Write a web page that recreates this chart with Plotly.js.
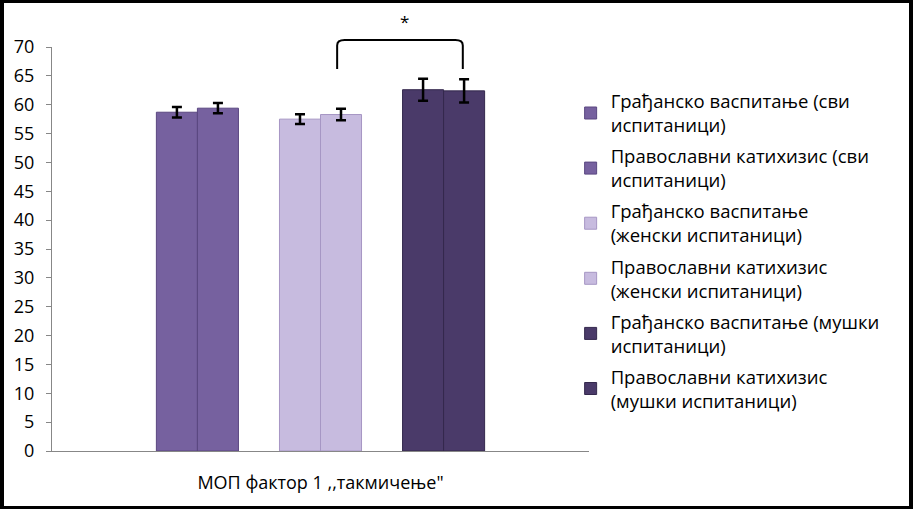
<!DOCTYPE html>
<html>
<head>
<meta charset="utf-8">
<script src="https://cdn.plot.ly/plotly-3.0.1.min.js"></script>
<style>
  html, body { margin: 0; padding: 0; background: #fff; }
  #wrap { position: relative; width: 913px; height: 509px; }
  #chart { width: 913px; height: 509px; }
  #frame {
    position: absolute; left: 0; top: 0; width: 913px; height: 509px;
    box-sizing: border-box; pointer-events: none;
    border-style: solid; border-color: #000;
    border-width: 3px 4px 3px 4px;
  }
</style>
</head>
<body>
<div id="wrap">
  <div id="chart"></div>
  <div id="frame"></div>
</div>
<script>
// one category, six series (pairs: all / female / male)
const category = ['МОП фактор 1 ,,такмичење"'];

const seriesNames = [
  "Грађанско васпитање (сви<br>испитаници)",
  "Православни катихизис (сви<br>испитаници)",
  "Грађанско васпитање<br>(женски испитаници)",
  "Православни катихизис<br>(женски испитаници)",
  "Грађанско васпитање (мушки<br>испитаници)",
  "Православни катихизис<br>(мушки испитаници)",
];

const means = [58.7, 59.4, 57.5, 58.3, 62.6, 62.4];
const errors = [0.9, 0.9, 0.85, 1.0, 1.9, 2.0];

const colors = ["#76619f", "#76619f", "#c7bbdf", "#c7bbdf", "#4a3a69", "#4a3a69"];
const edgeColors = ["#5a4780", "#5a4780", "#a696c4", "#a696c4", "#34284d", "#34284d"];

// slot positions inside the category (empty slot between each pair)
const slots = [0, 1, 3, 4, 6, 7];
const barW = 0.0764;
const start = -4 * barW;

const FONT = '"Open Sans", "Noto Sans", sans-serif';

const traces = seriesNames.map((name, i) => ({
  type: "bar",
  name,
  x: category,
  y: [means[i]],
  width: barW,
  offset: start + slots[i] * barW,
  legendgroup: "g" + i,
  marker: { color: colors[i], line: { color: edgeColors[i], width: 1 } },
  error_y: {
    type: "data",
    array: [errors[i]],
    visible: true,
    color: "#000",
    thickness: 2.5,
    width: 5,
  },
  hovertemplate: "%{y}<extra></extra>",
}));

const layout = {
  width: 913,
  height: 509,
  margin: { l: 52, r: 324, t: 47, b: 58, autoexpand: false },
  paper_bgcolor: "#fff",
  plot_bgcolor: "#fff",
  barmode: "overlay",
  font: { family: FONT, color: "#000" },
  showlegend: true,
  legend: {
    xref: "container",
    yref: "container",
    x: 0.625,
    y: 0.838,
    xanchor: "left",
    yanchor: "top",
    maxheight: 440,
    font: { size: 18.5, family: FONT, color: "#000" },
    traceorder: "grouped",
    tracegroupgap: 4,
    itemwidth: 30,
    bgcolor: "rgba(0,0,0,0)",
  },
  xaxis: {
    type: "category",
    showline: true,
    linecolor: "#878787",
    linewidth: 1,
    ticks: "",
    showgrid: false,
    zeroline: false,
    tickfont: { size: 18, family: FONT, color: "#000" },
    ticklabelstandoff: 15,
    fixedrange: true,
  },
  yaxis: {
    range: [0, 70],
    tickmode: "linear",
    tick0: 0,
    dtick: 5,
    showline: true,
    linecolor: "#878787",
    linewidth: 1,
    ticks: "outside",
    ticklen: 5,
    tickcolor: "#878787",
    showgrid: false,
    zeroline: false,
    tickfont: { size: 18, family: FONT, color: "#000" },
    ticklabelstandoff: 8,
    fixedrange: true,
  },
  shapes: [
    {
      type: "path",
      xref: "paper",
      yref: "paper",
      path: "M 0.531,0.9455 L 0.531,1.004 Q 0.531,1.0173 0.545,1.0173 L 0.751,1.0173 Q 0.765,1.0173 0.765,1.004 L 0.765,0.9455",
      line: { color: "#000", width: 2 },
    },
  ],
  annotations: [
    {
      xref: "paper",
      yref: "paper",
      x: 0.657,
      y: 1.062,
      text: "*",
      showarrow: false,
      xanchor: "center",
      yanchor: "middle",
      font: { size: 17, family: FONT, color: "#000" },
    },
  ],
};

Plotly.newPlot("chart", traces, layout, { displayModeBar: false, responsive: false, staticPlot: true });
</script>
</body>
</html>
